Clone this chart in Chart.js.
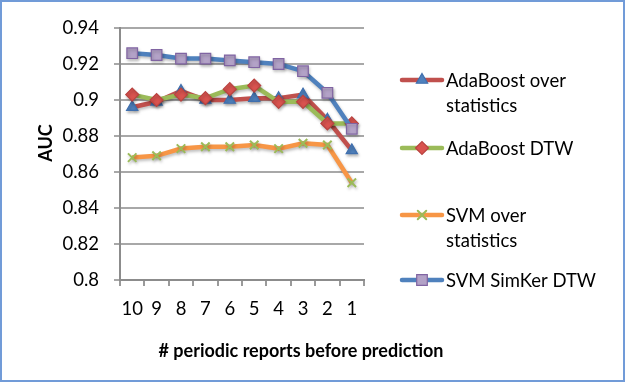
<!DOCTYPE html>
<html>
<head>
<meta charset="utf-8">
<script src="https://cdn.jsdelivr.net/npm/chart.js@4.4.1/dist/chart.umd.min.js"></script>
<style>
  body { margin: 0; background: #fff; }
  #wrap { width: 625px; height: 382px; position: relative; }
</style>
</head>
<body>
<div id="wrap"><canvas id="aucchart" width="625" height="382"></canvas></div>
<script>
// reports before prediction
const categories = ['10', '9', '8', '7', '6', '5', '4', '3', '2', '1'];

const adaStats  = [0.896, 0.899, 0.905, 0.900, 0.900, 0.901, 0.901, 0.903, 0.889, 0.872];
const adaDtw    = [0.903, 0.900, 0.903, 0.901, 0.906, 0.908, 0.899, 0.899, 0.887, 0.887];
const svmStats  = [0.868, 0.869, 0.873, 0.874, 0.874, 0.875, 0.873, 0.876, 0.875, 0.854];
const svmSimker = [0.926, 0.925, 0.923, 0.923, 0.922, 0.921, 0.920, 0.916, 0.904, 0.884];

const seriesNames = ['AdaBoost over statistics', 'AdaBoost DTW', 'SVM over statistics', 'SVM SimKer DTW'];
const legendLines = [['AdaBoost over', 'statistics'], ['AdaBoost DTW'], ['SVM over', 'statistics'], ['SVM SimKer DTW']];

const FONT = 'Lato, "Open Sans", sans-serif';

function series(i, values, line, pointStyle, fill, border, radius) {
    return {
        label: seriesNames[i],
        data: values,
        borderColor: line,
        borderWidth: 4.5,
        tension: 0,
        pointStyle: pointStyle,
        pointRadius: radius,
        pointBackgroundColor: fill,
        pointBorderColor: border,
        pointBorderWidth: pointStyle === 'crossRot' ? 2 : 1.2,
        order: 3 - i
    };
}

const datasets = [
    series(0, adaStats, '#c0504d', 'triangle', '#4f81bd', '#3f6fae', 6.5),
    series(1, adaDtw, '#9bbb59', 'rectRot', '#d9534f', '#b94340', 6.5),
    series(2, svmStats, '#f79646', 'crossRot', '#9bbb59', '#9bbb59', 6),
    series(3, svmSimker, '#4f81bd', 'rect', '#b3a2c7', '#8064a2', 7.5)
];

const shadow = {
    id: 'shadow',
    beforeDatasetsDraw(chart) {
        const ctx = chart.ctx;
        ctx.save();
        ctx.shadowColor = 'rgba(0,0,0,0.25)';
        ctx.shadowBlur = 3;
        ctx.shadowOffsetX = 1;
        ctx.shadowOffsetY = 2;
    },
    afterDatasetsDraw(chart) {
        chart.ctx.restore();
    }
};

const decorations = {
    id: 'decorations',
    afterDraw(chart) {
        const ctx = chart.ctx;
        ctx.save();

        // axis titles
        ctx.fillStyle = '#000';
        ctx.font = 'bold 18px ' + FONT;
        ctx.textAlign = 'center';
        ctx.textBaseline = 'middle';
        ctx.fillText('# periodic reports before prediction', 301, 351);
        ctx.save();
        ctx.translate(46, 143);
        ctx.rotate(-Math.PI / 2);
        ctx.fillText('AUC', 0, 0);
        ctx.restore();

        // legend
        const rows = [80, 148, 215, 280];
        ctx.font = '18.5px ' + FONT;
        ctx.textAlign = 'left';
        chart.data.datasets.forEach(function (ds, i) {
            const y = rows[i];
            ctx.strokeStyle = ds.borderColor;
            ctx.lineWidth = 4.5;
            ctx.lineCap = 'round';
            ctx.beginPath();
            ctx.moveTo(402, y);
            ctx.lineTo(442, y);
            ctx.stroke();
            ctx.fillStyle = ds.pointBackgroundColor;
            ctx.strokeStyle = ds.pointBorderColor;
            ctx.lineWidth = ds.pointBorderWidth;
            Chart.helpers.drawPoint(ctx, {
                pointStyle: ds.pointStyle,
                radius: ds.pointRadius,
                borderWidth: ds.pointBorderWidth,
                rotation: 0
            }, 422, y);
            ctx.fillStyle = '#000';
            legendLines[i].forEach(function (t, k) {
                ctx.fillText(t, 446, y + 1 + k * 25);
            });
        });

        // outer border
        ctx.strokeStyle = '#719bd8';
        ctx.lineWidth = 2;
        ctx.strokeRect(1, 1, 623, 380);
        ctx.restore();
    }
};

new Chart(document.getElementById('aucchart'), {
    type: 'line',
    data: { labels: categories, datasets: datasets },
    plugins: [shadow, decorations],
    options: {
        responsive: false,
        animation: false,
        events: [],
        layout: { padding: { top: 28, right: 261, bottom: 0, left: 0 } },
        plugins: {
            legend: { display: false },
            tooltip: { enabled: false }
        },
        scales: {
            x: {
                offset: true,
                afterFit: function (scale) { scale.height = 102; },
                grid: {
                    offset: true,
                    drawOnChartArea: false,
                    drawTicks: true,
                    tickLength: 6,
                    color: '#9a9a9a',
                    lineWidth: 2
                },
                border: { color: '#8c8c8c', width: 2 },
                ticks: {
                    color: '#000',
                    font: { family: FONT, size: 18.5 },
                    padding: 12,
                    maxRotation: 0,
                    autoSkip: false
                }
            },
            y: {
                min: 0.8,
                max: 0.94,
                afterFit: function (scale) { scale.width = 120; },
                grid: {
                    color: '#a8a8a8',
                    lineWidth: 2,
                    tickLength: 6
                },
                border: { color: '#8c8c8c', width: 2 },
                ticks: {
                    stepSize: 0.02,
                    color: '#000',
                    font: { family: FONT, size: 18.5 },
                    padding: 15,
                    callback: function (v) { return String(Number(v.toFixed(2))); }
                }
            }
        }
    }
});
</script>
</body>
</html>
